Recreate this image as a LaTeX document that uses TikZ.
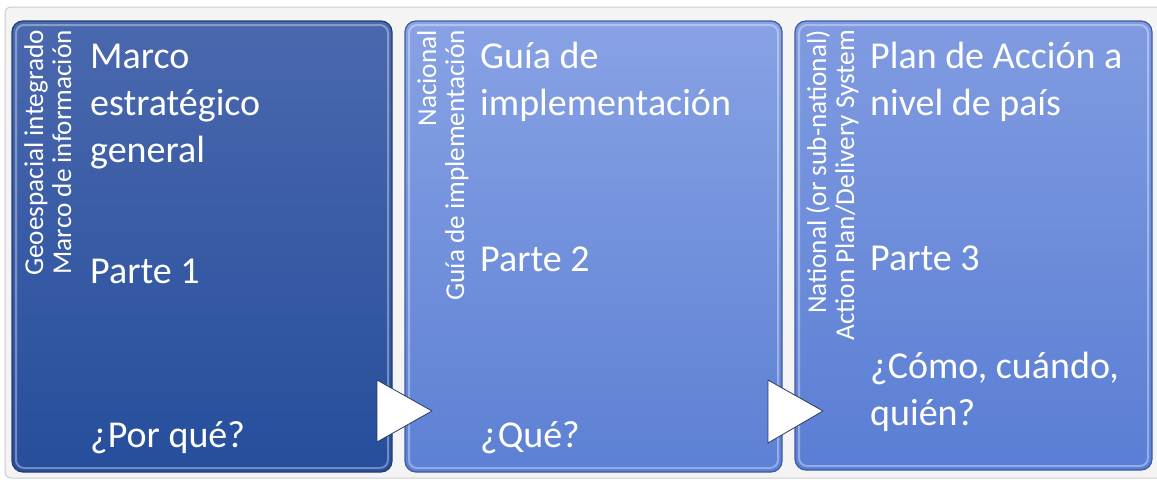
\documentclass[tikz,border=0pt]{standalone}
\usepackage{fontspec}
\setmainfont{Carlito}
\usetikzlibrary{shapes.geometric}
\definecolor{frameline}{RGB}{205,205,205}
\definecolor{framefill}{RGB}{244,244,244}
\definecolor{boxAtop}{RGB}{74,104,174}
\definecolor{boxAbot}{RGB}{38,78,156}
\definecolor{boxAline}{RGB}{36,60,115}
\definecolor{boxBtop}{RGB}{136,162,228}
\definecolor{boxBbot}{RGB}{92,128,212}
\definecolor{boxBline}{RGB}{62,92,160}
\definecolor{boxCtop}{RGB}{128,155,225}
\definecolor{boxCbot}{RGB}{90,126,212}
\definecolor{arrowline}{RGB}{40,58,100}
\tikzset{
  panel/.style={rounded corners=11pt, line width=1.2pt},
  gloss/.style={rounded corners=8pt, draw=white, draw opacity=0.35, line width=2pt},
  maintext/.style={anchor=base west, inner sep=0pt, text=white, align=left,
    font=\fontsize{38}{47}\selectfont},
  sidetext/.style={anchor=north east, rotate=90, inner sep=0pt, text=white, align=right,
    font=\fontsize{27.2}{28}\selectfont},
  chevron/.style={fill=white, draw=arrowline, line width=0.8pt, line join=round}
}
\begin{document}
\begin{tikzpicture}[x=1pt,y=-1pt]
\useasboundingbox (0,0) rectangle (1157,482);
% outer frame
\draw[fill=framefill, draw=frameline, rounded corners=6pt, line width=1pt] (5,7) rectangle (1170,478);
% panels
\draw[panel, draw=boxAline, top color=boxAtop, bottom color=boxAbot] (12,21) rectangle (392,472);
\draw[gloss] (16,25) rectangle (388,468);
\draw[panel, draw=boxBline, top color=boxBtop, bottom color=boxBbot] (405,21) rectangle (782,472);
\draw[gloss] (409,25) rectangle (778,468);
\draw[panel, draw=boxBline, top color=boxCtop, bottom color=boxCbot] (795,21) rectangle (1152,470);
\draw[gloss] (799,25) rectangle (1148,466);
% side labels
\node[sidetext] (sideA) at (24,30) {Geoespacial integrado\\Marco de información};
\node[sidetext] (sideB) at (417,30) {Nacional\\Guía de implementación};
\node[sidetext] (sideC) at (806,30) {National (or sub-national)\\Action Plan/Delivery System};
% main texts (base = last line)
\node[maintext] (titleA) at (90,162) {Marco\\estratégico\\general};
\node[maintext] (partA) at (90,283) {Parte 1};
\node[maintext] (qA) at (90,447) {¿Por qué?};
\node[maintext] (titleB) at (480,115) {Guía de\\implementación};
\node[maintext] (partB) at (480,271) {Parte 2};
\node[maintext] (qB) at (480,447) {¿Qué?};
\node[maintext] (titleC) at (870,115) {Plan de Acción a\\nivel de país};
\node[maintext] (partC) at (870,270) {Parte 3};
\node[maintext] (qC) at (870,425) {¿Cómo, cuándo,\\quién?};
% chevrons
\coordinate (a1) at (377,380); \coordinate (a2) at (377,442); \coordinate (a3) at (432,411);
\draw[chevron] (a1) -- (a3) -- (a2) -- cycle;
\coordinate (b1) at (768,380); \coordinate (b2) at (768,443); \coordinate (b3) at (823,411);
\draw[chevron] (b1) -- (b3) -- (b2) -- cycle;
\end{tikzpicture}
\end{document}
